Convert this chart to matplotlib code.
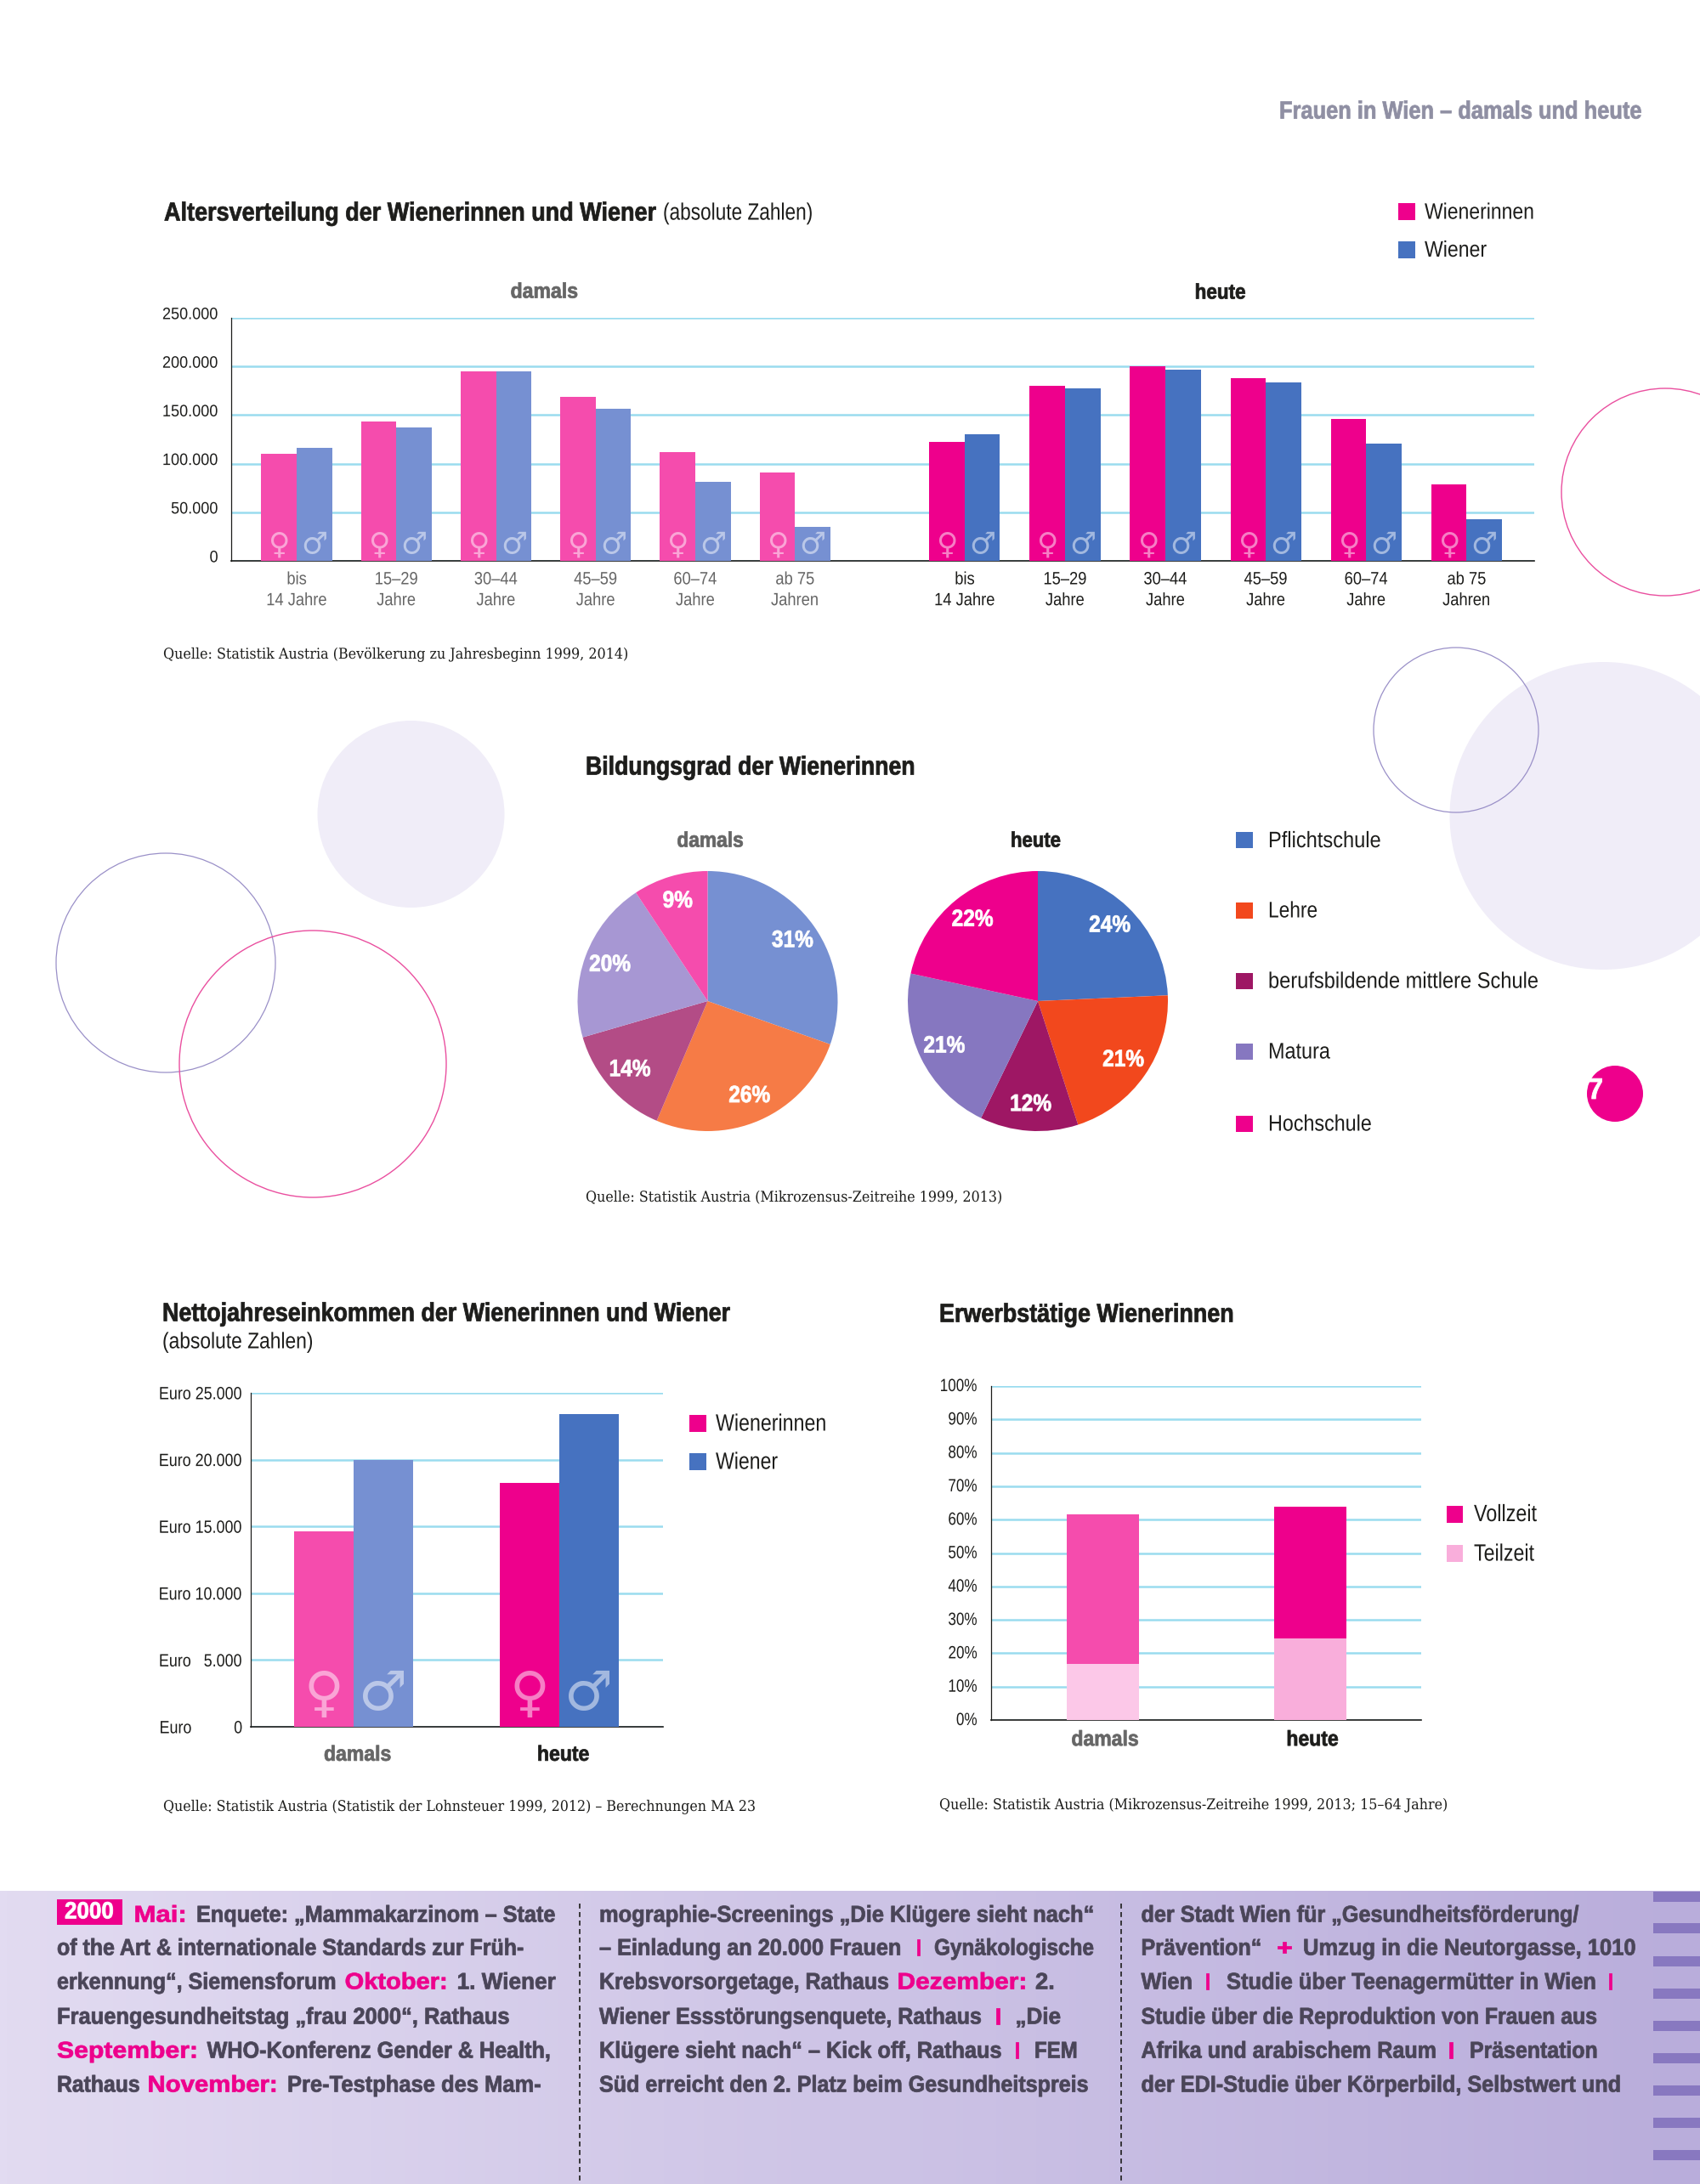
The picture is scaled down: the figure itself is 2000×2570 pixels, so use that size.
import numpy as np
import matplotlib
matplotlib.use("Agg")
import matplotlib.pyplot as plt
from matplotlib.patches import Circle, Rectangle
from matplotlib.colors import LinearSegmentedColormap
from matplotlib.transforms import ScaledTranslation, Affine2D, Bbox
from matplotlib.patheffects import AbstractPathEffect

# ---------- data ----------
age_groups = ["bis\n14 Jahre", "15–29\nJahre", "30–44\nJahre", "45–59\nJahre", "60–74\nJahre", "ab 75\nJahren"]
age_w_then = [110000, 143000, 194500, 168800, 112000, 90600]
age_m_then = [116300, 137400, 194500, 156700, 81500, 34800]
age_w_now = [122700, 179800, 199900, 188200, 145700, 78500]
age_m_now = [130000, 177500, 196500, 183800, 120600, 42400]
age_ticks = [0, 50000, 100000, 150000, 200000, 250000]

edu_labels = ["Pflichtschule", "Lehre", "berufsbildende mittlere Schule", "Matura", "Hochschule"]
edu_then = [30.4, 26.0, 14.1, 20.2, 9.3]      # slice sizes as drawn
edu_now = [24.3, 20.7, 12.2, 21.2, 21.6]
edu_then_printed = [31, 26, 14, 20, 9]        # percentages as printed
edu_now_printed = [24, 21, 12, 21, 22]

income_periods = ["damals", "heute"]
income_w = [14600, 18250]
income_m = [20000, 23400]
income_ticks = [0, 5000, 10000, 15000, 20000, 25000]
income_tick_labels = ["Euro          0", "Euro   5.000", "Euro 10.000", "Euro 15.000", "Euro 20.000", "Euro 25.000"]

employ_periods = ["damals", "heute"]
employ_part = [16.9, 24.4]
employ_full = [44.8, 39.4]
employ_ticks = list(range(0, 101, 10))

# ---------- style ----------
W, H = 2000, 2570
SANS = ["Liberation Sans", "DejaVu Sans"]
SERIF = ["DejaVu Serif"]
plt.rcParams["font.family"] = SANS
PINK = "#ee008c"; BLUE = "#4672c0"; PINK_L = "#f54cad"; BLUE_L = "#7690d2"
GRID = "#9adcef"; DARK = "#1d1d1b"; GREY = "#666666"; BODY = "#4a4558"
EDU_THEN = ["#7690d2", "#f67b46", "#b34c86", "#a797d3", "#f54cad"]
EDU_NOW = ["#4672c0", "#f2481d", "#9e1764", "#8677c0", "#ee008c"]
PART_THEN = "#fcc8e8"; PART_NOW = "#f9aedb"
HEAVY = 0.55


class Squeeze(AbstractPathEffect):
    """Condense (and optionally embolden) text: no condensed face is installed."""

    def __init__(self, sx, anchor="left", stroke=0.0):
        super().__init__()
        self.sx, self.anchor, self.stroke = sx, anchor, stroke

    def draw_path(self, renderer, gc, tpath, affine, rgbFace=None):
        ext = tpath.get_extents()
        c = {"left": 0.0, "center": (ext.x0 + ext.x1) / 2, "right": ext.x1}[self.anchor]
        a = Affine2D().translate(-c, 0).scale(self.sx, 1).translate(c, 0) + affine
        if self.stroke:
            g = renderer.new_gc()
            g.copy_properties(gc)
            g.set_linewidth(self.stroke)
            g.set_foreground(rgbFace)
            renderer.draw_path(g, tpath, a, rgbFace)
            g.restore()
        else:
            renderer.draw_path(gc, tpath, a, rgbFace)


fig = plt.figure(figsize=(W / 100, H / 100), dpi=100, facecolor="white")
page = fig.add_axes([0, 0, 1, 1], zorder=0)
page.set_xlim(0, W); page.set_ylim(H, 0); page.axis("off")
renderer = fig.canvas.get_renderer()


def box(x0, y0, x1, y1, **kw):
    return fig.add_axes([x0 / W, 1 - y1 / H, (x1 - x0) / W, (y1 - y0) / H], facecolor="none", **kw)


def put(s, x, y, x1=None, size=15, bold=False, color=DARK, family=None):
    t = page.text(x, y + 1.5, s, fontsize=size, fontweight="bold" if bold else "normal", color=color,
                  ha="left", va="center", family=family or SANS, zorder=5)
    if x1 is not None:
        orig = t.get_window_extent
        b = orig(renderer)
        sx = (x1 - x) / b.width
        t.set_path_effects([Squeeze(sx, stroke=HEAVY if bold else 0.0)])

        def extent(r=None, dpi=None, _o=orig, _s=sx):
            e = _o(r if r is not None else renderer, dpi)
            return Bbox([[e.x0, e.y0], [e.x0 + e.width * _s, e.y1]])
        t.get_window_extent = extent
    return t


def squeeze_ticks(labels, sx, anchor, stroke=0.0):
    for t in labels:
        t.set_path_effects([Squeeze(sx, anchor, stroke)])


def swatch(x0, y0, x1, y1, c):
    page.add_patch(Rectangle((x0, y0), x1 - x0, y1 - y0, fc=c, ec="none", zorder=4))


def base_axes(ax, ticks, ymax, size=14):
    ax.set_ylim(0, ymax)
    ax.set_yticks(ticks)
    ax.grid(axis="y", color=GRID, lw=1.8, zorder=1)
    ax.set_axisbelow(True)
    for s in ("top", "right"):
        ax.spines[s].set_visible(False)
    ax.spines["left"].set_linewidth(0.9); ax.spines["left"].set_color(DARK)
    ax.spines["bottom"].set_linewidth(1.2); ax.spines["bottom"].set_color(DARK)
    ax.tick_params(length=0)
    ax.tick_params(axis="y", labelsize=size, labelcolor=DARK)


def de(v):
    return f"{v:,}".replace(",", ".")


def symbols(ax, xs, sym, size, y, color="white", alpha=0.5):
    for x in xs:
        ax.annotate(sym, (x, 0), xytext=(0, y), textcoords="offset pixels", ha="center", va="center",
                    fontsize=size, family="DejaVu Sans", color=color, alpha=alpha, zorder=4, annotation_clip=False)


# ---------- page decoration ----------
LILAC = "#f0edf8"; RING_V = "#9a90c8"; RING_P = "#ea4f9f"
page.add_patch(Circle((1886.5, 960), 181, fc=LILAC, ec="none"))
page.add_patch(Circle((483.5, 958), 110, fc=LILAC, ec="none"))
page.add_patch(Circle((1959, 579), 122, fc="none", ec=RING_P, lw=1.0))
page.add_patch(Circle((1713, 859), 97, fc="none", ec=RING_V, lw=0.9))
page.add_patch(Circle((195, 1133), 129, fc="none", ec=RING_V, lw=0.9))
page.add_patch(Circle((368, 1252), 157, fc="none", ec=RING_P, lw=1.0))
page.add_patch(Circle((1900, 1287), 33, fc=PINK, ec="none"))
put("7", 1868, 1282, 1886, size=25, bold=True, color="white")
put("Frauen in Wien – damals und heute", 1505, 130, 1931, size=21, bold=True, color="#8f8fa3")

# ---------- age chart ----------
ax = box(272, 374, 1805, 660, zorder=2)
base_axes(ax, age_ticks, 250000, size=14)
ax.set_yticklabels([de(v) for v in age_ticks])
step = 117.26
bw = 41.6 / step
gap = 6.702
ax.set_xlim((272 - 349) / step, (1805 - 349) / step)
x_then = np.arange(6.0)
x_now = gap + x_then * 1.0072
ax.bar(x_then - bw / 2, age_w_then, bw, color=PINK_L, zorder=3)
ax.bar(x_then + bw / 2, age_m_then, bw, color=BLUE_L, zorder=3)
ax.bar(x_now - bw / 2, age_w_now, bw, color=PINK, zorder=3)
ax.bar(x_now + bw / 2, age_m_now, bw, color=BLUE, zorder=3)
for xs in (x_then, x_now):
    symbols(ax, xs - bw / 2, "♀", 25, 18)
    symbols(ax, xs + bw / 2, "♂", 25, 19)
ax.set_xticks(np.r_[x_then, x_now])
ax.set_xticklabels(age_groups * 2, fontsize=15, linespacing=1.38)
ax.tick_params(axis="x", pad=9)
ax.tick_params(axis="y", pad=11)
for i, t in enumerate(ax.get_xticklabels()):
    t.set_color(GREY if i < 6 else DARK)
squeeze_ticks(ax.get_xticklabels(), 0.88, "center")
squeeze_ticks(ax.get_yticklabels(), 0.93, "right")
for t in ax.get_yticklabels():
    t.set_transform(t.get_transform() + ScaledTranslation(0, 5 / 100, fig.dpi_scale_trans))
put("Altersverteilung der Wienerinnen und Wiener", 193, 250, 771, size=22, bold=True)
put("(absolute Zahlen)", 780, 250, 956, size=20)
put("damals", 600.6, 342, 680, size=18, bold=True, color=GREY)
put("heute", 1405.6, 343, 1465.6, size=18, bold=True)
for y, lab, c, x1 in ((249, "Wienerinnen", PINK, 1805), (293.5, "Wiener", BLUE, 1749)):
    swatch(1645, y - 10, 1665, y + 10, c)
    put(lab, 1676, y, x1, size=19)
put("Quelle: Statistik Austria (Bevölkerung zu Jahresbeginn 1999, 2014)", 192, 769, 739, size=12.5, family=SERIF)

# ---------- education pies ----------
for cx, vals, printed, cols in ((832.5, edu_then, edu_then_printed, EDU_THEN),
                                (1221, edu_now, edu_now_printed, EDU_NOW)):
    r = 153
    ap = box(cx - r, 1178 - r, cx + r, 1178 + r, zorder=2)
    _, texts = ap.pie(vals, colors=cols, startangle=90, counterclock=False, radius=1,
                      labels=[f"{v}%" for v in printed], labeldistance=0.8,
                      textprops=dict(color="white", fontsize=20, fontweight="bold"))
    for t in texts:
        t.set_ha("center"); t.set_va("center")
    squeeze_ticks(texts, 0.88, "center", HEAVY)
    ap.set_xlim(-1, 1); ap.set_ylim(-1, 1)
put("Bildungsgrad der Wienerinnen", 689, 902, 1076, size=22, bold=True)
put("damals", 796.4, 988, 874.7, size=18, bold=True, color=GREY)
put("heute", 1189, 988, 1248, size=18, bold=True)
for lab, c, y, x1 in zip(edu_labels, EDU_NOW, (988.5, 1071, 1154, 1237, 1322), (1625, 1550, 1810, 1565, 1614)):
    swatch(1454, y - 9.5, 1474, y + 9.5, c)
    put(lab, 1492, y, x1, size=19)
put("Quelle: Statistik Austria (Mikrozensus-Zeitreihe 1999, 2013)", 689, 1408, 1179, size=12.5, family=SERIF)

# ---------- income ----------
ax = box(295, 1639, 780, 2032, zorder=2)
base_axes(ax, income_ticks, 25000, size=15)
ax.set_yticklabels(income_tick_labels)
step = 242
bw = 70 / step
ax.set_xlim((295 - 415.8) / step, (780 - 415.8) / step)
xi = np.arange(len(income_periods), dtype=float)
ax.bar(xi - bw / 2, income_w, bw, color=[PINK_L, PINK], zorder=3)
ax.bar(xi + bw / 2, income_m, bw, color=[BLUE_L, BLUE], zorder=3)
symbols(ax, xi - bw / 2, "♀", 46, 37)
symbols(ax, xi + bw / 2, "♂", 46, 38)
ax.set_xticks(xi + 0.02)
ax.set_xticklabels(income_periods, fontsize=18, fontweight="bold")
ax.tick_params(axis="x", pad=15)
ax.tick_params(axis="y", pad=7)
ax.get_xticklabels()[0].set_color(GREY); ax.get_xticklabels()[1].set_color(DARK)
squeeze_ticks(ax.get_xticklabels(), 0.92, "center", HEAVY)
squeeze_ticks(ax.get_yticklabels(), 0.86, "right")
put("Nettojahreseinkommen der Wienerinnen und Wiener", 191, 1545, 858, size=22, bold=True)
put("(absolute Zahlen)", 191, 1578, 369, size=19)
for y, lab, c, x1 in ((1675, "Wienerinnen", PINK, 972), (1720, "Wiener", BLUE, 915)):
    swatch(811, y - 10, 831, y + 10, c)
    put(lab, 842, y, x1, size=20)
put("Quelle: Statistik Austria (Statistik der Lohnsteuer 1999, 2012) – Berechnungen MA 23", 192, 2125, 889, size=12.5, family=SERIF)

# ---------- employment ----------
ax = box(1166, 1631, 1672, 2024, zorder=2)
base_axes(ax, employ_ticks, 100, size=15)
ax.set_yticklabels([f"{v}%" for v in employ_ticks])
step = 244
bw = 84.5 / step
ax.set_xlim((1166 - 1297.6) / step, (1672 - 1297.6) / step)
xe = np.arange(len(employ_periods), dtype=float)
ax.bar(xe, employ_part, bw, color=[PART_THEN, PART_NOW], zorder=3)
ax.bar(xe, employ_full, bw, bottom=employ_part, color=[PINK_L, PINK], zorder=3)
ax.set_xticks(xe + 0.01)
ax.set_xticklabels(employ_periods, fontsize=18, fontweight="bold")
ax.tick_params(axis="x", pad=8)
ax.tick_params(axis="y", pad=11.5)
ax.get_xticklabels()[0].set_color(GREY); ax.get_xticklabels()[1].set_color(DARK)
squeeze_ticks(ax.get_xticklabels(), 0.92, "center", HEAVY)
squeeze_ticks(ax.get_yticklabels(), 0.82, "right")
for t in ax.get_yticklabels():
    t.set_transform(t.get_transform() + ScaledTranslation(0, 1.5 / 100, fig.dpi_scale_trans))
put("Erwerbstätige Wienerinnen", 1105, 1546, 1451, size=22, bold=True)
for y, lab, c, x1 in ((1781.5, "Vollzeit", PINK, 1808), (1828, "Teilzeit", PART_NOW, 1805)):
    swatch(1702, y - 10, 1721, y + 10, c)
    put(lab, 1734, y, x1, size=20)
put("Quelle: Statistik Austria (Mikrozensus-Zeitreihe 1999, 2013; 15–64 Jahre)", 1105, 2123, 1703, size=12.5, family=SERIF)

# ---------- timeline band ----------
cmap = LinearSegmentedColormap.from_list("band", ["#e2dbf1", "#b9addb"])
page.imshow(np.linspace(0, 1, 256)[None, :], extent=(0, W, H, 2225), cmap=cmap, aspect="auto", zorder=1)
page.set_xlim(0, W); page.set_ylim(H, 0)
for y in (2232, 2269, 2308, 2346, 2384, 2422, 2460, 2498, 2536):
    swatch(1945, y - 6, W, y + 6, "#8878c0")
for x in (682, 1319):
    page.plot([x, x], [2240, H], color=DARK, lw=1.2, dashes=(3.5, 2.5), zorder=3)
swatch(67, 2235, 143.5, 2265, PINK)
put("2000", 76, 2249, 134, size=20, bold=True, color="white")

B, P = BODY, PINK
lines = [
    (2253, [("Mai:", 157.5, 220, P), ("Enquete: „Mammakarzinom – State", 231, 654, B)]),
    (2292, [("of the Art & internationale Standards zur Früh-", 67, 617, B)]),
    (2332, [("erkennung“, Siemensforum", 67, 396, B), ("Oktober:", 405.6, 527, P), ("1. Wiener", 537.6, 654, B)]),
    (2373, [("Frauengesundheitstag „frau 2000“, Rathaus", 67, 600, B)]),
    (2413, [("September:", 67, 233, P), ("WHO-Konferenz Gender & Health,", 243.6, 648.6, B)]),
    (2453, [("Rathaus", 67, 164.5, B), ("November:", 173.5, 327, P), ("Pre-Testphase des Mam-", 338, 636.5, B)]),
    (2253, [("mographie-Screenings „Die Klügere sieht nach“", 705, 1287, B)]),
    (2292, [("– Einladung an 20.000 Frauen", 705, 1061, B), ("I", 1077, 1084, P), ("Gynäkologische", 1099, 1287, B)]),
    (2332, [("Krebsvorsorgetage, Rathaus", 705, 1046, B), ("Dezember:", 1055.5, 1208.5, P), ("2.", 1218, 1241, B)]),
    (2373, [("Wiener Essstörungsenquete, Rathaus", 705, 1155, B), ("I", 1170.5, 1177.5, P), ("„Die", 1194.5, 1248, B)]),
    (2413, [("Klügere sieht nach“ – Kick off, Rathaus", 705, 1178.6, B), ("I", 1193, 1200, P), ("FEM", 1217, 1268, B)]),
    (2453, [("Süd erreicht den 2. Platz beim Gesundheitspreis", 705, 1280.6, B)]),
    (2253, [("der Stadt Wien für „Gesundheitsförderung/", 1342.5, 1858, B)]),
    (2292, [("Prävention“", 1342.5, 1484.7, B), ("+", 1502, 1520, P), ("Umzug in die Neutorgasse, 1010", 1533, 1925, B)]),
    (2332, [("Wien", 1342.5, 1403, B), ("I", 1417, 1424, P), ("Studie über Teenagermütter in Wien", 1443, 1878, B), ("I", 1891, 1898, P)]),
    (2373, [("Studie über die Reproduktion von Frauen aus", 1342.5, 1879, B)]),
    (2413, [("Afrika und arabischem Raum", 1342.5, 1690, B), ("I", 1703.6, 1710.6, P), ("Präsentation", 1729, 1880, B)]),
    (2453, [("der EDI-Studie über Körperbild, Selbstwert und", 1342.5, 1907.5, B)]),
]
for y, runs in lines:
    for s, x0, x1, c in runs:
        put(s, x0, y, x1, size=19.5, bold=True, color=c)

fig.savefig("out.png", dpi=100, facecolor="white")
